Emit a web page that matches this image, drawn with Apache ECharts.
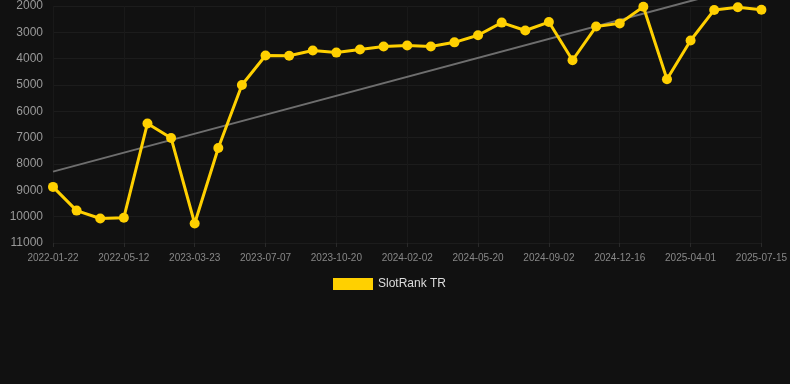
<!DOCTYPE html>
<html>
<head>
<meta charset="utf-8">
<script src="https://cdn.jsdelivr.net/npm/echarts@6/dist/echarts.min.js"></script>
<style>
html, body { margin: 0; padding: 0; background: #111111; }
#container { width: 790px; height: 384px; }
</style>
</head>
<body>
<div id="container"></div>
<script>
// 日期（类目）
var dates = [
	'2022-01-22', '2022-02-20', '2022-03-21', '2022-05-12', '2022-07-10', '2022-10-05',
	'2023-03-23', '2023-04-25', '2023-06-01', '2023-07-07', '2023-08-10', '2023-09-14',
	'2023-10-20', '2023-11-24', '2023-12-28', '2024-02-02', '2024-03-08', '2024-04-14',
	'2024-05-20', '2024-06-24', '2024-07-29', '2024-09-02', '2024-10-07', '2024-11-11',
	'2024-12-16', '2025-01-20', '2025-02-24', '2025-04-01', '2025-05-06', '2025-06-10',
	'2025-07-15'
];
// 排名
var ranks = [
	8870, 9770, 10070, 10040, 6460, 7010,
	10260, 7390, 5000, 3880, 3890, 3690,
	3770, 3650, 3540, 3500, 3540, 3380,
	3110, 2630, 2930, 2610, 4060, 2780,
	2660, 2030, 4780, 3310, 2150, 2050,
	2140
];
// 趋势线（首尾两点）
var trendIndex = [0, 30];
var trendValue = [8290, 1090];
// Y轴刻度
var yMin = 2000;
var yMax = 11000;
var yStep = 1000;

var dom = document.getElementById('container');
var myChart = echarts.init(dom);

var trendData = [];
for (var i = 0; i < trendIndex.length; i++) {
	trendData.push([trendIndex[i], trendValue[i]]);
}

var option = {
	backgroundColor: '#111111',
	animation: false,
	grid: { left: 53, right: 28, top: 6, bottom: 141 },
	legend: {
		top: 273,
		left: 328,
		itemWidth: 40,
		itemHeight: 12,
		itemGap: 10,
		data: [{ name: 'SlotRank TR', icon: 'rect' }],
		textStyle: { color: '#dddddd', fontSize: 12, fontFamily: 'Liberation Sans' }
	},
	xAxis: {
		type: 'category',
		data: dates,
		boundaryGap: false,
		axisLine: { show: false },
		axisTick: { show: true, interval: 2, length: 4, lineStyle: { color: '#2a2a2a' } },
		axisLabel: { interval: 2, color: '#888888', fontSize: 10, margin: 10, fontFamily: 'Liberation Sans' },
		splitLine: { show: true, interval: 2, lineStyle: { color: '#191919' } }
	},
	yAxis: {
		type: 'value',
		inverse: true,
		min: yMin,
		max: yMax,
		interval: yStep,
		axisLine: { show: false },
		axisTick: { show: false },
		axisLabel: {
			color: '#999999', fontSize: 12, margin: 10, fontFamily: 'Liberation Sans',
			formatter: function(v) { return String(v); }
		},
		splitLine: { lineStyle: { color: '#1c1c1c' } }
	},
	series: [
		{
			name: 'SlotRank TR',
			type: 'line',
			data: ranks,
			color: '#ffd000',
			symbol: 'circle',
			symbolSize: 10,
			lineStyle: { width: 3, color: '#ffd000' },
			itemStyle: { color: '#ffd000' },
			z: 3
		},
		{
			name: 'trend',
			type: 'line',
			data: trendData,
			clip: false,
			symbol: 'none',
			lineStyle: { width: 2, color: '#6e6e6e' },
			silent: true,
			z: 2
		}
	]
};
myChart.setOption(option);
</script>
</body>
</html>
